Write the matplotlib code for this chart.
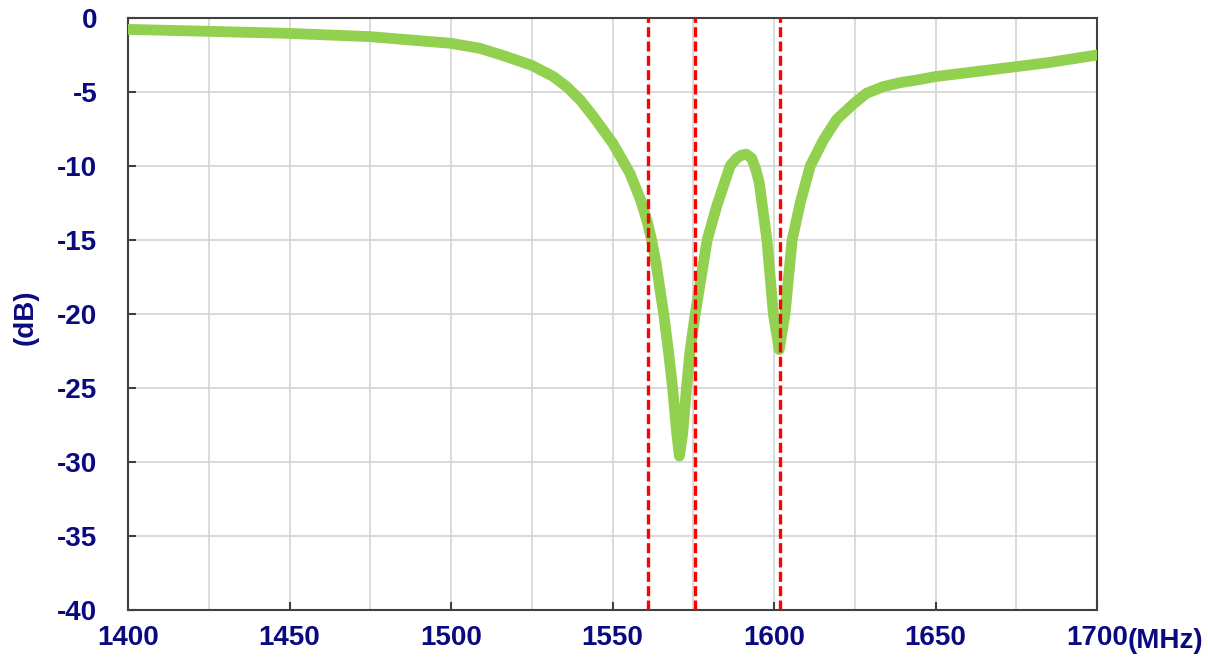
import numpy as np
import matplotlib
matplotlib.use("Agg")
import matplotlib.pyplot as plt
from matplotlib.ticker import MultipleLocator

# response curve (MHz, dB)
freq = [1400.0, 1425.0, 1450.0, 1475.0, 1500.0, 1509.0, 1517.0, 1525.0, 1531.7,
        1535.8, 1540.0, 1544.1, 1550.1, 1555.4, 1558.7, 1560.8, 1562.1, 1563.5,
        1565.9, 1567.3, 1568.6, 1569.9, 1570.7, 1571.7, 1572.9, 1574.0, 1575.6,
        1579.3, 1582.2, 1586.4, 1588.4, 1590.0, 1591.4, 1593.1, 1594.4, 1595.4,
        1597.8, 1599.8, 1601.6, 1603.4, 1605.6, 1608.1, 1611.2, 1615.3, 1619.4,
        1624.6, 1628.6, 1633.8, 1639.0, 1644.2, 1649.9, 1664.8, 1674.9, 1685.4,
        1700.0]
s_db = [-0.77, -0.90, -1.04, -1.26, -1.71, -2.05, -2.6, -3.2, -3.96,
        -4.64, -5.54, -6.67, -8.47, -10.5, -12.3, -13.8, -15.0, -16.6,
        -20.1, -22.5, -25.0, -28.1, -29.6, -28.1, -25.0, -22.5, -20.0,
        -15.0, -12.75, -10.0, -9.48, -9.26, -9.2, -9.48, -10.27, -11.1,
        -15.0, -20.0, -22.4, -20.0, -15.0, -12.5, -10.0, -8.24, -6.85,
        -5.8, -5.09, -4.64, -4.37, -4.19, -3.96, -3.56, -3.29, -3.0,
        -2.5]

# band markers (MHz)
markers = [1561.098, 1575.42, 1602.0]

x_ticks = [1400, 1450, 1500, 1550, 1600, 1650, 1700]
y_ticks = [0, -5, -10, -15, -20, -25, -30, -35, -40]

navy = "#0a0a80"
plt.rcParams['font.family'] = ['Liberation Sans', 'DejaVu Sans']
plt.rcParams['axes.unicode_minus'] = False

fig = plt.figure(figsize=(12.08, 6.61), dpi=100)
ax = fig.add_axes([0.10596, 0.07716, 0.8022, 0.8956])

ax.plot(freq, s_db, color="#92d050", linewidth=7.8,
        solid_joinstyle="round", solid_capstyle="round", zorder=3)
for m in markers:
    ax.axvline(m, color="#ff0000", linewidth=2.4, linestyle=(0, (3, 1.3)), zorder=4)

ax.set_xlim(1400, 1700)
ax.set_ylim(-40, 0)
ax.set_xticks(x_ticks)
ax.set_yticks(y_ticks)
ax.xaxis.set_minor_locator(MultipleLocator(25))
ax.grid(True, which="both", color="#d4d4d4", linewidth=1.2, zorder=0)
ax.set_axisbelow(True)

ax.tick_params(axis="both", which="major", direction="in", length=6,
               width=1.5, color="#404040", labelsize=20, labelcolor=navy)
ax.tick_params(axis="y", pad=22)
ax.tick_params(axis="x", pad=11)
ax.tick_params(axis="x", which="minor", length=0)
for lbl in ax.get_xticklabels() + ax.get_yticklabels():
    lbl.set_fontweight("bold")
for sp in ax.spines.values():
    sp.set_color("#404040")
    sp.set_linewidth(1.5)

fig.text(0.021, 0.52, "(dB)", rotation=90, ha="center", va="center",
         fontsize=20, fontweight="bold", color=navy)
fig.text(0.9335, 0.031, "(MHz)", ha="left", va="center",
         fontsize=20, fontweight="bold", color=navy)

fig.savefig("out.png", dpi=100)
